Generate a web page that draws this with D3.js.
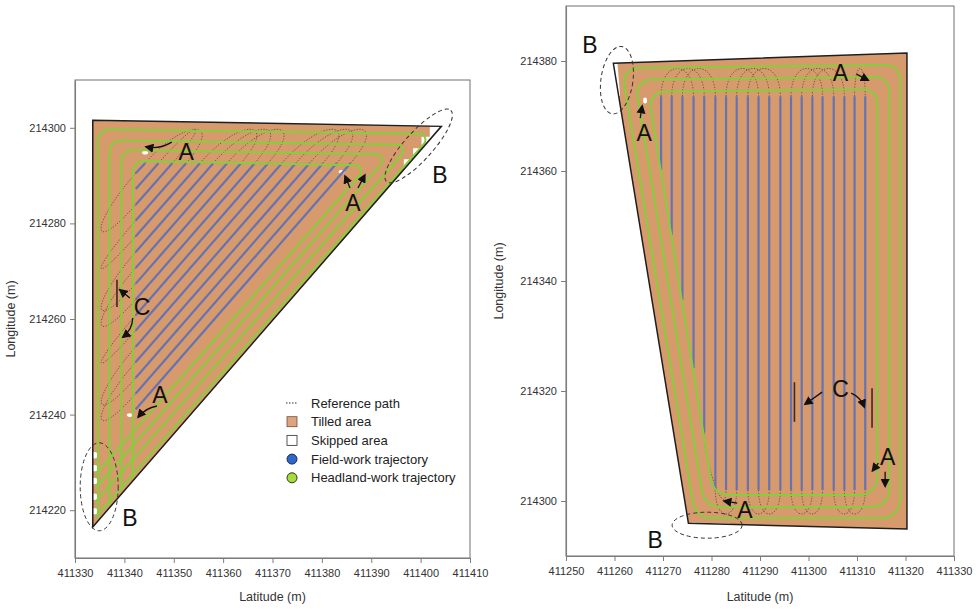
<!DOCTYPE html>
<html>
<head>
<meta charset="utf-8">
<script src="https://cdn.jsdelivr.net/npm/d3@7"></script>
<style>
  body { margin: 0; background: #fff; }
  svg text { font-family: "Liberation Sans", Arial, sans-serif; }
</style>
</head>
<body>
<svg id="chart" width="977" height="609"></svg>
<script>
// ===================== Field 1: triangular field =====================
const f1Boundary = [[411333.6, 214301.6], [411404.2, 214300.3], [411333.6, 214216.5]];
// field-work passes (parallel to the long edge): each runs from the left headland to the top headland
const f1StripeTopY = 214292.6;
const f1StripeLeftX = 411342.3;
const f1StripeTopX = [411385.8, 411383.0, 411380.2, 411377.5, 411374.7, 411371.9, 411369.1, 411366.4,
                      411363.6, 411360.8, 411358.0, 411355.3, 411352.5, 411349.7, 411346.9, 411344.2];
const f1StripeLeftY = [214241.1, 214244.4, 214247.7, 214251.0, 214254.2, 214257.6, 214260.8, 214264.1,
                       214267.4, 214270.7, 214274.0, 214277.3, 214280.6, 214283.9, 214287.2, 214290.5];
// headland passes: left leg bottom -> top-left corner -> top-right corner -> end of long-edge leg
const f1Headland = [
  [[411334.66, 214218.4], [411334.66, 214299.7], [411402.4, 214298.7], [411334.25, 214218.7]],
  [[411337.0, 214221.1], [411337.0, 214297.4], [411397.9, 214296.4], [411334.25, 214221.9]],
  [[411339.4, 214224.0], [411339.4, 214295.4], [411393.7, 214294.4], [411334.25, 214224.8]],
  [[411341.7, 214226.7], [411341.7, 214293.1], [411389.4, 214292.1], [411334.25, 214227.6]]
];
// reference-path turns between field-work passes (pass indices)
const f1TopTurns = [[0, 3], [1, 4], [2, 5], [6, 9], [7, 10], [8, 11], [12, 15], [13, 14]];
const f1LeftTurns = [[1, 3], [2, 4], [5, 6], [7, 9], [8, 10], [11, 12], [13, 15]];
// skipped (untilled) pieces
const f1SkippedCorner = [[411404.23, 214300.23], [411401.86, 214300.27], [411401.86, 214298.14],
                         [411400.18, 214298.14], [411400.18, 214295.71], [411398.48, 214295.71],
                         [411398.48, 214293.41], [411396.6, 214293.41], [411396.6, 214291.17]];
const f1SkippedEdgeY = [214231.5, 214228.8, 214226.1, 214222.8, 214219.8];
const f1SkippedSpots = [[411344.2, 214294.8], [411341.1, 214239.9], [411384.0, 214290.8]];
const f1Ticks = { x: [411330, 411340, 411350, 411360, 411370, 411380, 411390, 411400, 411410],
                  y: [214220, 214240, 214260, 214280, 214300] };

// ===================== Field 2: quadrilateral field =====================
const f2Boundary = [[411259.76, 214379.58], [411320.3, 214381.45], [411320.3, 214294.9], [411275.24, 214295.95]];
const f2StripeX = [411269.6, 411271.8, 411274.0, 411276.3, 411278.5, 411280.8, 411283.0, 411285.2, 411287.5, 411289.7,
                   411291.9, 411294.2, 411296.4, 411298.6, 411300.8, 411302.9, 411305.2, 411307.4, 411309.5, 411311.7];
const f2StripeTopY = 214373.6;
const f2StripeBottomY = [214360.2, 214348.4, 214336.5, 214324.2, 214312.4, 214302.0, 214302.0, 214302.0, 214302.0, 214302.0,
                         214302.0, 214302.0, 214302.0, 214302.0, 214302.0, 214302.0, 214302.0, 214302.0, 214302.0, 214302.0];
// headland passes: closed rounds (top-left, top-right, bottom-right, bottom-left)
const f2Headland = [
  [[411261.5, 214378.7], [411318.9, 214379.3], [411318.9, 214296.9], [411276.7, 214296.9]],
  [[411264.2, 214376.6], [411316.7, 214377.1], [411316.7, 214298.9], [411278.6, 214298.9]],
  [[411266.9, 214374.4], [411314.2, 214374.9], [411314.2, 214301.1], [411280.4, 214301.1]]
];
const f2TopTurns = [[0, 3], [1, 4], [2, 5], [6, 9], [7, 10], [8, 11], [12, 15], [13, 16], [14, 17], [18, 19]];
const f2BottomTurns = [[4, 6], [5, 7], [8, 10], [9, 11], [12, 14], [13, 15], [16, 18], [17, 19]];
const f2SkippedPieces = [
  [[411259.8, 214379.45], [411260.63, 214379.45], [411261.15, 214373.64], [411260.82, 214373.64]],
  [[411276.0, 214296.09], [411283.85, 214295.91], [411283.85, 214295.36], [411276.0, 214295.55]]
];
const f2SkippedSpots = [[411266.3, 214372.8]];
const f2Ticks = { x: [411250, 411260, 411270, 411280, 411290, 411300, 411310, 411320, 411330],
                  y: [214300, 214320, 214340, 214360, 214380] };

// ===================== annotations =====================
const f1Labels = [["A", 411352.5, 214294.9], ["A", 411386.3, 214284.3], ["B", 411403.9, 214290.1],
                  ["C", 411343.6, 214262.5], ["A", 411347.2, 214244.1], ["B", 411341.1, 214218.4]];
const f1Arrows = [[411349.6, 214297.0, 411344.4, 214296.0, -5], [411385.7, 214287.4, 411384.7, 214289.9, 0],
                  [411387.3, 214287.4, 411388.7, 214290.1, 0], [411341.1, 214264.4, 411339.1, 214266.1, 0],
                  [411341.7, 214260.2, 411339.7, 214256.2, -5], [411346.6, 214241.8, 411342.8, 214239.5, 4]];
const f1Marks = [[411338.5, 214268.2, 411338.5, 214262.5]];
const f1Rings = [[411334.9, 214224.9, 19, 44, 0], [411399.6, 214296.2, 48, 14, -48]];

const f2Labels = [["A", 411266.1, 214366.9], ["A", 411306.6, 214377.8], ["C", 411306.6, 214320.5],
                  ["A", 411316.3, 214308.0], ["A", 411286.9, 214298.4], ["B", 411254.95, 214382.9],
                  ["B", 411268.4, 214292.9]];
const f2Arrows = [[411265.3, 214369.6, 411265.7, 214371.8, 0], [411309.9, 214377.6, 411312.3, 214376.5, 0],
                  [411302.8, 214319.8, 411299.3, 214317.6, 0], [411308.8, 214319.6, 411311.5, 214317.1, -4],
                  [411314.4, 214306.9, 411313.2, 214305.5, 0], [411315.8, 214305.3, 411315.8, 214302.7, 0],
                  [411285.3, 214299.6, 411282.6, 214300.0, 0]];
const f2Marks = [[411297.1, 214321.6, 411297.1, 214314.4], [411313.1, 214320.5, 411313.1, 214313.3]];
const f2Rings = [[411260.5, 214376.5, 16, 34, 8], [411279.1, 214295.6, 35, 13, 0]];

const legendItems = ["Reference path", "Tilled area", "Skipped area", "Field-work trajectory", "Headland-work trajectory"];

// ===================== styles =====================
const C = {
  tilled: "#d69a6c", green: "#86cf3c", blue: "#6673b3", edge: "#1e1e1e",
  ref: "#3a3a3a", axis: "#7d7d7d", text: "#333"
};

const svg = d3.select("#chart");
const defs = svg.append("defs");
defs.append("marker").attr("id", "arrow").attr("viewBox", "0 0 10 10").attr("refX", 8).attr("refY", 5)
  .attr("markerWidth", 7).attr("markerHeight", 7).attr("orient", "auto-start-reverse")
  .append("path").attr("d", "M0,0 L10,5 L0,10 Z").attr("fill", "#111");

function roundedOpen(pts, r) {
  const p = d3.path();
  p.moveTo(pts[0][0], pts[0][1]);
  for (let i = 1; i < pts.length - 1; i++) p.arcTo(pts[i][0], pts[i][1], pts[i + 1][0], pts[i + 1][1], r[i - 1]);
  p.lineTo(pts[pts.length - 1][0], pts[pts.length - 1][1]);
  return p.toString();
}
function roundedClosed(pts, r) {
  const n = pts.length, p = d3.path();
  const m = [(pts[0][0] + pts[1][0]) / 2, (pts[0][1] + pts[1][1]) / 2];
  p.moveTo(m[0], m[1]);
  for (let i = 1; i <= n; i++) {
    const c = pts[i % n], nx = pts[(i + 1) % n];
    p.arcTo(c[0], c[1], nx[0], nx[1], r[i % n]);
  }
  p.lineTo(m[0], m[1]);
  return p.toString();
}
function loopPath(a, b, u, L) {
  const p = d3.path();
  p.moveTo(a[0], a[1]);
  p.bezierCurveTo(a[0] + u[0] * L, a[1] + u[1] * L, b[0] + u[0] * L, b[1] + u[1] * L, b[0], b[1]);
  return p.toString();
}
function unit(a, b) { const dx = b[0] - a[0], dy = b[1] - a[1], l = Math.hypot(dx, dy); return [dx / l, dy / l]; }

function frameAndAxes(g, x, y, ticks, yTitleX) {
  const [x0, x1] = x.range(), [y0, y1] = y.range();
  g.append("rect").attr("x", x0).attr("y", y1).attr("width", x1 - x0).attr("height", y0 - y1)
    .attr("fill", "none").attr("stroke", C.axis).attr("stroke-width", 1.1);
  const ax = g.append("g").attr("transform", `translate(0,${y0})`)
    .call(d3.axisBottom(x).tickValues(ticks.x).tickFormat(d3.format("d")).tickSize(5).tickSizeOuter(0).tickPadding(6));
  const ay = g.append("g").attr("transform", `translate(${x0},0)`)
    .call(d3.axisLeft(y).tickValues(ticks.y).tickFormat(d3.format("d")).tickSize(5).tickSizeOuter(0).tickPadding(4));
  [ax, ay].forEach(a => {
    a.select(".domain").attr("stroke", C.axis).attr("stroke-width", 1.1);
    a.selectAll(".tick line").attr("stroke", C.axis);
    a.selectAll(".tick text").attr("fill", C.text).style("font-size", "11px")
      .style("font-family", '"Liberation Sans", Arial, sans-serif');
  });
  g.append("text").attr("x", (x0 + x1) / 2).attr("y", 601).attr("text-anchor", "middle")
    .attr("fill", C.text).style("font-size", "12.5px").text("Latitude (m)");
  g.append("text").attr("transform", `translate(${yTitleX},${(y0 + y1) / 2}) rotate(-90)`)
    .attr("text-anchor", "middle").attr("fill", C.text).style("font-size", "12.5px").text("Longitude (m)");
}

function annotate(g, x, y, labels, arrows, marks, rings) {
  g.selectAll(".mark").data(marks).join("line").attr("class", "mark")
    .attr("x1", d => x(d[0])).attr("y1", d => y(d[1])).attr("x2", d => x(d[2])).attr("y2", d => y(d[3]))
    .attr("stroke", "#3b2a22").attr("stroke-width", 1.6);
  g.selectAll(".ring").data(rings).join("ellipse").attr("class", "ring")
    .attr("transform", d => `translate(${x(d[0])},${y(d[1])}) rotate(${d[4]})`)
    .attr("rx", d => d[2]).attr("ry", d => d[3])
    .attr("fill", "none").attr("stroke", "#333").attr("stroke-width", 1).attr("stroke-dasharray", "4,3");
  g.selectAll(".arrow").data(arrows).join("path").attr("class", "arrow")
    .attr("d", d => {
      const a = [x(d[0]), y(d[1])], b = [x(d[2]), y(d[3])];
      const u = unit(a, b), m = [(a[0] + b[0]) / 2 - u[1] * d[4], (a[1] + b[1]) / 2 + u[0] * d[4]];
      const p = d3.path(); p.moveTo(a[0], a[1]); p.quadraticCurveTo(m[0], m[1], b[0], b[1]); return p.toString();
    })
    .attr("fill", "none").attr("stroke", "#111").attr("stroke-width", 1.3).attr("marker-end", "url(#arrow)");
  g.selectAll(".lab").data(labels).join("text").attr("class", "lab")
    .attr("x", d => x(d[1])).attr("y", d => y(d[2])).attr("text-anchor", "middle").attr("dy", "0.36em")
    .attr("fill", "#111").style("font-size", "23px").text(d => d[0]);
}

const refStyle = sel => sel.attr("fill", "none").attr("stroke", C.ref).attr("stroke-width", 0.8)
  .attr("stroke-dasharray", "1.3,1.5").attr("stroke-opacity", 0.85);

// ===================== Panel 1 =====================
const x1 = d3.scaleLinear().domain([411330, 411410]).range([75, 470]);
const y1 = d3.scaleLinear().domain([214210, 214310]).range([558, 80]);
const g1 = svg.append("g");
const px1 = d => [x1(d[0]), y1(d[1])];

g1.append("path").attr("d", d3.line()(f1Boundary.map(px1)) + "Z").attr("fill", C.tilled);
g1.append("path").attr("d", d3.line()(f1SkippedCorner.map(px1)) + "Z").attr("fill", "#fff");
g1.selectAll(".skipdot").data(f1SkippedEdgeY).join("circle").attr("class", "skipdot")
  .attr("cx", x1(f1Boundary[0][0]) + 1.5).attr("cy", d => y1(d)).attr("r", 3.2).attr("fill", "#fff");
g1.selectAll(".spot").data(f1SkippedSpots).join("ellipse").attr("class", "spot")
  .attr("cx", d => x1(d[0])).attr("cy", d => y1(d[1])).attr("rx", 3).attr("ry", 1.8).attr("fill", "#fff");

const f1Left = f1StripeLeftY.map(v => [x1(f1StripeLeftX), y1(v)]);
const f1Top = f1StripeTopX.map(v => [x1(v), y1(f1StripeTopY)]);
const f1Dir = f1Left.map((a, i) => unit(a, f1Top[i]));

// reference path: turns in the headlands
g1.selectAll(".tturn").data(f1TopTurns).join("path").attr("class", "tturn")
  .attr("d", d => loopPath(f1Top[d[0]], f1Top[d[1]], f1Dir[d[0]], 60)).call(refStyle);
g1.selectAll(".lturn").data(f1LeftTurns).join("path").attr("class", "lturn")
  .attr("d", d => loopPath(f1Left[d[0]], f1Left[d[1]], [-f1Dir[d[0]][0], -f1Dir[d[0]][1]], 70)).call(refStyle);

// field-work trajectories
g1.selectAll(".stripe").data(f1Left).join("line").attr("class", "stripe")
  .attr("x1", d => d[0]).attr("y1", d => d[1]).attr("x2", (d, i) => f1Top[i][0]).attr("y2", (d, i) => f1Top[i][1])
  .attr("stroke", C.blue).attr("stroke-width", 2.2);
// headland-work trajectories
g1.selectAll(".head").data(f1Headland).join("path").attr("class", "head")
  .attr("d", d => roundedOpen(d.map(px1), [11, 6]))
  .attr("fill", "none").attr("stroke", C.green).attr("stroke-width", 2);
// field edge
g1.append("path").attr("d", d3.line()(f1Boundary.map(px1)) + "Z")
  .attr("fill", "none").attr("stroke", C.edge).attr("stroke-width", 1.5).attr("stroke-linejoin", "miter");

frameAndAxes(g1, x1, y1, f1Ticks, 15);
annotate(g1, x1, y1, f1Labels, f1Arrows, f1Marks, f1Rings);

// legend
const lg = g1.append("g").attr("transform", "translate(292,403)");
const row = lg.selectAll(".row").data(legendItems).join("g").attr("class", "row")
  .attr("transform", (d, i) => `translate(0,${i * 18.7})`);
row.append("text").attr("x", 19).attr("dy", "0.35em").attr("fill", "#222").style("font-size", "13px").text(d => d);
lg.append("line").attr("x1", -6).attr("x2", 5).attr("y1", 0).attr("y2", 0)
  .attr("stroke", "#333").attr("stroke-width", 1.2).attr("stroke-dasharray", "1.5,1.5");
lg.append("rect").attr("x", -5).attr("y", 18.7 - 5).attr("width", 10).attr("height", 10)
  .attr("fill", "#e0a47c").attr("stroke", "#6b5040").attr("stroke-width", 0.8);
lg.append("rect").attr("x", -5).attr("y", 37.4 - 5).attr("width", 10).attr("height", 10)
  .attr("fill", "#fff").attr("stroke", "#444").attr("stroke-width", 0.9);
lg.append("circle").attr("cx", 0).attr("cy", 56.1).attr("r", 5).attr("fill", "#2f67cf").attr("stroke", "#1b2a52").attr("stroke-width", 1);
lg.append("circle").attr("cx", 0).attr("cy", 74.8).attr("r", 5).attr("fill", "#a6dc3c").attr("stroke", "#2c3a12").attr("stroke-width", 1);

// ===================== Panel 2 =====================
const x2 = d3.scaleLinear().domain([411250, 411330]).range([566, 954]);
const y2 = d3.scaleLinear().domain([214290, 214390]).range([556, 6]);
const g2 = svg.append("g");
const px2 = d => [x2(d[0]), y2(d[1])];

g2.append("path").attr("d", d3.line()(f2Boundary.map(px2)) + "Z").attr("fill", C.tilled);
g2.selectAll(".skip").data(f2SkippedPieces).join("path").attr("class", "skip")
  .attr("d", d => d3.line()(d.map(px2)) + "Z").attr("fill", "#fff");
g2.selectAll(".spot").data(f2SkippedSpots).join("ellipse").attr("class", "spot")
  .attr("cx", d => x2(d[0])).attr("cy", d => y2(d[1])).attr("rx", 2).attr("ry", 3).attr("fill", "#fff");

const f2Top = f2StripeX.map(v => [x2(v), y2(f2StripeTopY)]);
const f2Bot = f2StripeX.map((v, i) => [x2(v), y2(f2StripeBottomY[i])]);

g2.selectAll(".tturn").data(f2TopTurns).join("path").attr("class", "tturn")
  .attr("d", d => loopPath(f2Top[d[0]], f2Top[d[1]], [0, -1], 37)).call(refStyle);
g2.selectAll(".bturn").data(f2BottomTurns).join("path").attr("class", "bturn")
  .attr("d", d => loopPath(f2Bot[d[0]], f2Bot[d[1]], [0, 1], 32)).call(refStyle);

g2.selectAll(".stripe").data(f2Top).join("line").attr("class", "stripe")
  .attr("x1", d => d[0]).attr("y1", d => d[1]).attr("x2", (d, i) => f2Bot[i][0]).attr("y2", (d, i) => f2Bot[i][1])
  .attr("stroke", C.blue).attr("stroke-width", 2.2);
g2.selectAll(".head").data(f2Headland).join("path").attr("class", "head")
  .attr("d", d => roundedClosed(d.map(px2), [14, 14, 18, 18]))
  .attr("fill", "none").attr("stroke", C.green).attr("stroke-width", 2);
g2.append("path").attr("d", d3.line()(f2Boundary.map(px2)) + "Z")
  .attr("fill", "none").attr("stroke", C.edge).attr("stroke-width", 1.5);

frameAndAxes(g2, x2, y2, f2Ticks, 503);
annotate(g2, x2, y2, f2Labels, f2Arrows, f2Marks, f2Rings);
</script>
</body>
</html>
